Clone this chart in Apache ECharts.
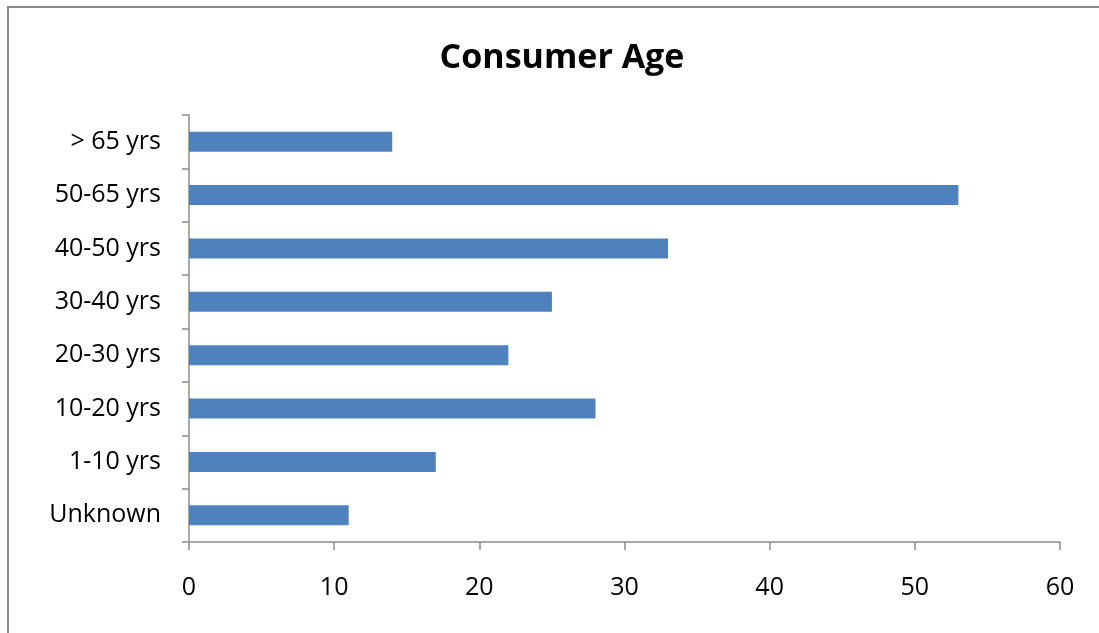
<!DOCTYPE html>
<html>
<head>
<meta charset="utf-8">
<script src="https://cdn.jsdelivr.net/npm/echarts@6/dist/echarts.min.js"></script>
<style>
html,body{margin:0;padding:0;background:#fff;}
#frame{position:absolute;left:7px;top:6px;width:1200px;height:700px;border-left:2px solid #8a8a8a;border-top:2px solid #8a8a8a;}
#chart{position:absolute;left:0;top:0;width:1099px;height:633px;}
</style>
</head>
<body>
<div id="frame"></div>
<div id="chart"></div>
<script>
const categories = ['Unknown', '1-10 yrs', '10-20 yrs', '20-30 yrs', '30-40 yrs', '40-50 yrs', '50-65 yrs', '> 65 yrs'];
const values = [11, 17, 28, 22, 25, 33, 53, 14];
const xTicks = { min: 0, max: 60, interval: 10 };

const chart = echarts.init(document.getElementById('chart'), null, { renderer: 'canvas' });
const fontFam = '"Open Sans", "Liberation Sans", sans-serif';
chart.setOption({
  backgroundColor: 'transparent',
  animation: false,
  title: {
    text: 'Consumer Age',
    left: 557, top: 36, textAlign: 'center',
    textStyle: { fontFamily: fontFam, fontWeight: 'bold', fontSize: 34, color: '#000' }
  },
  grid: { left: 189, right: 39, top: 115, bottom: 91, containLabel: false },
  xAxis: {
    type: 'value', min: xTicks.min, max: xTicks.max, interval: xTicks.interval,
    axisLine: { show: true, lineStyle: { color: '#8c8c8c', width: 1.5 } },
    axisTick: { show: true, length: 8, inside: false, lineStyle: { color: '#8c8c8c', width: 1.5 } },
    splitLine: { show: false },
    axisLabel: { margin: 33, fontFamily: fontFam, fontSize: 25, color: '#000' }
  },
  yAxis: {
    type: 'category', data: categories,
    axisLine: { show: true, lineStyle: { color: '#8c8c8c', width: 1.5 } },
    axisTick: { show: true, length: 7, alignWithLabel: false, lineStyle: { color: '#8c8c8c', width: 1.5 } },
    axisLabel: { margin: 28, fontFamily: fontFam, fontSize: 25, color: '#000' }
  },
  series: [{
    type: 'bar', data: values, barWidth: 20,
    itemStyle: { color: '#4F81BD' }
  }]
});
</script>
</body>
</html>
